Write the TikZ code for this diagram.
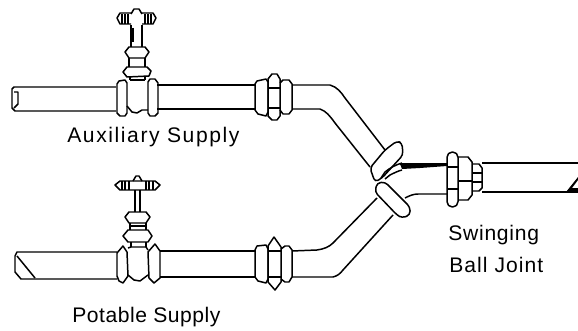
\documentclass[tikz,border=0pt]{standalone}
\usepackage{fontspec}
\setmainfont[LetterSpace=5]{Liberation Sans}
\usetikzlibrary{calc}
\tikzset{
	pipeline/.style={line width=0.85pt, line join=round},
	ballring/.style={pipeline, fill=white, rounded corners=2pt},
	labeltext/.style={font=\fontsize{12}{14}\selectfont, inner sep=0pt, anchor=west},
}

\begin{document}
\begin{tikzpicture}[x=0.02cm, y=-0.02cm]
	\useasboundingbox (0, 0) rectangle (578, 331);
	%%%%% TOP PIPE %%%%%
	\draw[pipeline] (116, 87) -- (14, 87) -- (12, 89) -- (12, 108) -- (15, 111) -- (116, 111);
	\draw[pipeline] (14, 92) -- (18, 92) -- (18, 104) -- (14, 108);
	\draw[pipeline] (157, 85) -- (255, 85);
	\draw[pipeline] (157, 109) -- (255, 109);
	
	% valve
	\draw[pipeline] (119, 81) -- (125, 80) -- (127, 83) -- (127, 113) -- (125, 116) -- (120, 116) -- (117, 113) -- (117, 84) -- cycle;
	\draw[pipeline] (150, 79) -- (155, 79) -- (158, 83) -- (158, 113) -- (155, 116) -- (150, 116) -- (148, 113) -- (148, 82) -- cycle;
	\draw[pipeline] (127, 106) -- (132, 112) -- (137, 113) -- (142, 110) -- (148, 110);
	\draw[pipeline] (130, 80) -- (145, 80);
	\draw[pipeline] (130, 77) -- (130, 80);
	\draw[pipeline] (145, 77) -- (145, 80);
	\draw[pipeline] (127, 67) -- (147, 67) -- (151, 71) -- (149, 76) -- (127, 77) -- (123, 72) -- cycle;
	\draw[pipeline] (129, 58) -- (129, 67);
	\draw[pipeline] (145, 58) -- (145, 67);
	\draw[pipeline] (129, 47) -- (145, 47) -- (149, 52) -- (145, 58) -- (129, 58) -- (125, 52) -- cycle;
	\draw[pipeline] (131, 47) -- (131, 25);
	\draw[pipeline] (142, 47) -- (142, 25);
	\draw[pipeline, line width=1.4pt] (133, 28) -- (133, 42);
	\draw[pipeline] (131, 13) -- (120, 13) -- (117, 18) -- (120, 24) -- (131, 24);
	\draw[pipeline] (142, 13) -- (153, 13) -- (156, 18) -- (153, 24) -- (142, 24);
	\draw[pipeline] (131, 14) -- (134, 9) -- (139, 9) -- (142, 14);
	\foreach \x in {122, 125, 128, 145, 148, 151}
		\draw[pipeline] (\x, 14) -- (\x, 24);
	
	% union
	\draw[pipeline] (257, 81) -- (266, 79) -- (268, 82) -- (268, 112) -- (266, 116) -- (258, 114) -- (255, 110) -- (255, 84) -- cycle;
	\draw[pipeline] (272, 74) -- (277, 74) -- (280, 79) -- (280, 116) -- (277, 120) -- (272, 120) -- (268, 116) -- (268, 79) -- cycle;
	\draw[pipeline] (268, 88) -- (280, 88);
	\draw[pipeline] (268, 108) -- (280, 108);
	\draw[pipeline] (280, 83) -- (283, 80) -- (289, 80) -- (292, 84) -- (292, 110) -- (289, 114) -- (283, 114) -- (280, 110);
	\draw[pipeline] (292, 85) -- (330, 85) .. controls (337, 87) and (341, 92) .. (345, 98) -- (385, 150);
	\draw[pipeline] (292, 109) -- (320, 109) .. controls (326, 111) and (330, 116) .. (335, 123) -- (370, 167);
	
	%%%%% BOTTOM PIPE %%%%%
	\draw[pipeline] (117, 252) -- (17, 252) -- (15, 256) -- (15, 272) -- (21, 279) -- (117, 279);
	\draw[pipeline] (17, 256) -- (35, 278);
	\draw[pipeline] (160, 251) -- (255, 251);
	\draw[pipeline] (160, 277) -- (255, 277);
	
	% valve
	\draw[pipeline] (123, 246) -- (127, 252) -- (128, 276) -- (123, 283) -- (119, 281) -- (117, 276) -- (117, 253) -- cycle;
	\draw[pipeline] (155, 244) -- (160, 251) -- (160, 278) -- (154, 283) -- (149, 278) -- (148, 252) -- cycle;
	\draw[pipeline] (128, 275) -- (134, 280) -- (140, 281) -- (148, 275);
	\draw[pipeline] (128, 248) -- (131, 247) -- (146, 247) -- (148, 250);
	\draw[pipeline] (131, 242) -- (131, 247);
	\draw[pipeline] (146, 242) -- (146, 247);
	\draw[pipeline] (128, 230) -- (148, 230) -- (152, 236) -- (148, 242) -- (128, 242) -- (123, 236) -- cycle;
	\draw[pipeline] (130, 223) -- (130, 230);
	\draw[pipeline] (146, 223) -- (146, 230);
	\draw[pipeline, line width=1.4pt] (130, 226) -- (146, 226);
	\draw[pipeline] (129, 212) -- (146, 212) -- (150, 217) -- (146, 223) -- (129, 223) -- (125, 217) -- cycle;
	\draw[pipeline] (135, 190) -- (135, 212);
	\draw[pipeline] (140, 190) -- (140, 212);
	\draw[pipeline] (120, 181) -- (155, 181) -- (160, 185) -- (155, 190) -- (120, 190) -- (115, 185) -- cycle;
	\draw[pipeline] (133, 181) -- (136, 176) -- (139, 176) -- (142, 181);
	\foreach \x in {122, 125, 129, 146, 149, 153}
		\draw[pipeline] (\x, 181) -- (\x, 190);
	
	% union
	\draw[pipeline] (257, 246) -- (266, 245) -- (268, 249) -- (268, 279) -- (266, 283) -- (258, 281) -- (255, 277) -- (255, 250) -- cycle;
	\draw[pipeline] (274, 237) -- (281, 247) -- (281, 282) -- (275, 290) -- (268, 282) -- (268, 246) -- cycle;
	\draw[pipeline] (268, 251) -- (281, 251);
	\draw[pipeline] (268, 277) -- (281, 277);
	\draw[pipeline] (281, 249) -- (285, 246) -- (289, 246) -- (292, 250) -- (292, 277) -- (289, 282) -- (285, 282) -- (281, 279);
	\draw[pipeline] (292, 251) -- (317, 250) .. controls (324, 249) and (329, 247) .. (333, 243) -- (377, 198);
	\draw[pipeline] (292, 277) -- (333, 277) .. controls (337, 276) and (340, 274) .. (343, 270) -- (393, 215);
	
	%%%%% BALL JOINT %%%%%
	\draw[ballring] (385, 150) -- (397, 141) -- (402, 143) -- (403, 155) -- (382, 178) -- (375, 182) -- (370, 168) -- cycle;
	\draw[ballring] (377, 183) -- (385, 182) -- (410, 207) -- (410, 215) -- (402, 218) -- (397, 215) -- (375, 192) -- cycle;
	\draw[pipeline] (381, 178) -- (385, 172) .. controls (390, 168) and (395, 165) .. (402, 163);
	\draw[pipeline] (385, 179) -- (390, 175) .. controls (394, 173) and (398, 171) .. (402, 170);
	\draw[pipeline] (405, 198) .. controls (409, 196) and (413, 194) .. (418, 194) -- (447, 194);
	\draw[pipeline] (400, 164) -- (447, 164);
	\fill (400, 164) -- (447, 164) -- (447, 166) -- (420, 168) -- (402, 169) -- cycle;
	
	% right union
	\draw[pipeline, rounded corners=3pt] (447, 152) rectangle (458, 207);
	\draw[pipeline] (447, 167) -- (458, 167);
	\draw[pipeline] (447, 189) -- (458, 189);
	\draw[pipeline] (458, 157) -- (468, 157) -- (472, 162) -- (472, 195) -- (468, 200) -- (458, 200);
	\draw[pipeline] (458, 181) -- (472, 181);
	\draw[pipeline] (472, 164) -- (479, 164) -- (482, 168) -- (482, 188) -- (479, 191) -- (472, 191);
	\draw[pipeline] (472, 173) -- (482, 173);
	\draw[pipeline] (472, 182) -- (482, 182);
	\draw[pipeline] (482, 163) -- (578, 163);
	\draw[pipeline] (482, 192) -- (578, 192);
	\fill (566, 192) -- (578, 177) -- (578, 180) -- (572, 188) -- (578, 188) -- (578, 192) -- cycle;
	
	%%%%% LABELS %%%%%
	\node[labeltext] (auxiliary) at (67, 137) {\addfontfeature{LetterSpace=7.5}Auxiliary Supply};
	\node[labeltext] (potable) at (72, 317) {\addfontfeature{LetterSpace=2.5}Potable Supply};
	\node[labeltext] (swinging) at (448, 235) {\addfontfeature{LetterSpace=3.5}Swinging};
	\node[labeltext] (balljoint) at (449, 265) {Ball Joint};
\end{tikzpicture}
\end{document}
